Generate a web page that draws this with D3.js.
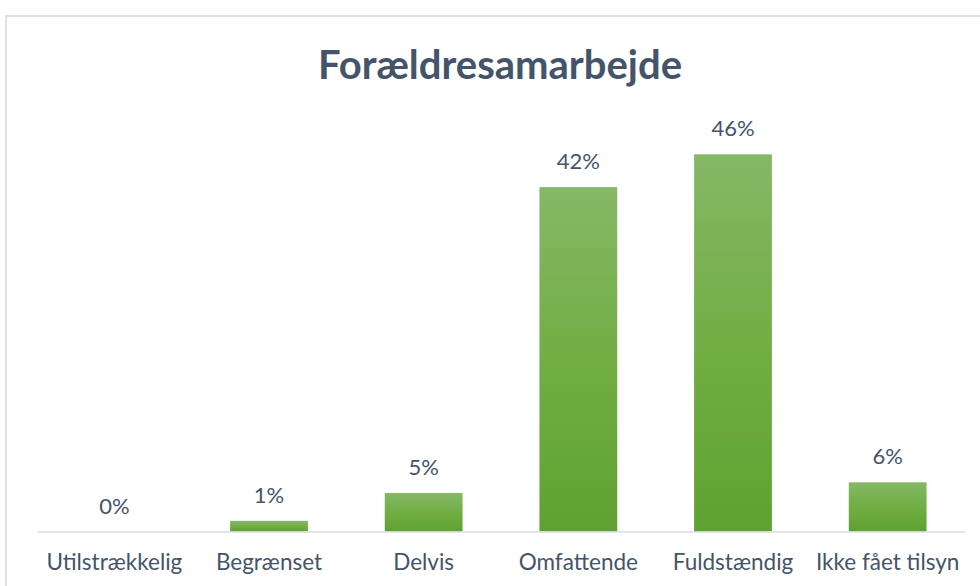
<!DOCTYPE html>
<html>
<head>
<meta charset="utf-8">
<script src="https://cdn.jsdelivr.net/npm/d3@7"></script>
<style>
  html, body { margin: 0; padding: 0; background: #ffffff; }
  svg { display: block; }
</style>
</head>
<body>
<svg id="chart" width="980" height="586"></svg>
<script>
// ---- data ----
const title = "Forældresamarbejde";
const categories = ["Utilstrækkelig", "Begrænset", "Delvis", "Omfattende", "Fuldstændig", "Ikke fået tilsyn"];
const values = [0, 1.3, 4.7, 42, 46, 6];       // percent
const valueLabels = ["0%", "1%", "5%", "42%", "46%", "6%"];
const yDomain = [0, 50];

// ---- layout ----
const W = 980, H = 586;
const plot = { left: 37, right: 965, top: 121.5, bottom: 531.5 };
const textColor = "#44546A";
const fontFamily = "Lato, 'Open Sans', 'Noto Sans', sans-serif";

const svg = d3.select("#chart");

const defs = svg.append("defs");
const grad = defs.append("linearGradient")
  .attr("id", "barGrad").attr("x1", 0).attr("y1", 0).attr("x2", 0).attr("y2", 1);
grad.append("stop").attr("offset", "0%").attr("stop-color", "#86b866");
grad.append("stop").attr("offset", "50%").attr("stop-color", "#71ae44");
grad.append("stop").attr("offset", "100%").attr("stop-color", "#5fa231");

// chart border (extends past right and bottom edges)
svg.append("rect")
  .attr("x", 6).attr("y", 16)
  .attr("width", W + 20).attr("height", H + 20)
  .attr("fill", "#ffffff")
  .attr("stroke", "#dde1e6").attr("stroke-width", 2);

// title
svg.append("text")
  .attr("x", 500).attr("y", 78.5)
  .attr("text-anchor", "middle")
  .attr("font-family", fontFamily)
  .attr("font-weight", 700)
  .attr("font-size", 40)
  .attr("fill", textColor)
  .text(title);

const x = d3.scaleBand().domain(categories).range([plot.left, plot.right]).paddingInner(0.497).paddingOuter(0.2485);
const y = d3.scaleLinear().domain(yDomain).range([plot.bottom, plot.top]);

// bars
svg.append("g").selectAll("rect")
  .data(categories)
  .join("rect")
  .attr("x", d => x(d))
  .attr("width", x.bandwidth())
  .attr("y", (d, i) => y(values[i]))
  .attr("height", (d, i) => y(0) - y(values[i]))
  .attr("fill", "url(#barGrad)")
  .attr("stroke", "none");

// x axis
const xAxis = svg.append("g")
  .attr("transform", `translate(0,${plot.bottom})`)
  .call(d3.axisBottom(x).tickSize(0).tickPadding(0).tickSizeOuter(0));
xAxis.select(".domain").attr("stroke", "#d9dde3").attr("stroke-width", 1.5);
xAxis.selectAll(".tick text")
  .attr("y", 38.5).attr("dy", 0)
  .attr("font-family", fontFamily)
  .attr("font-size", 22.5)
  .attr("fill", textColor);

// value labels
svg.append("g").selectAll("text")
  .data(categories)
  .join("text")
  .attr("x", d => x(d) + x.bandwidth() / 2)
  .attr("y", (d, i) => y(values[i]) - 18)
  .attr("text-anchor", "middle")
  .attr("font-family", fontFamily)
  .attr("font-size", 22)
  .attr("fill", textColor)
  .text((d, i) => valueLabels[i]);
</script>
</body>
</html>
